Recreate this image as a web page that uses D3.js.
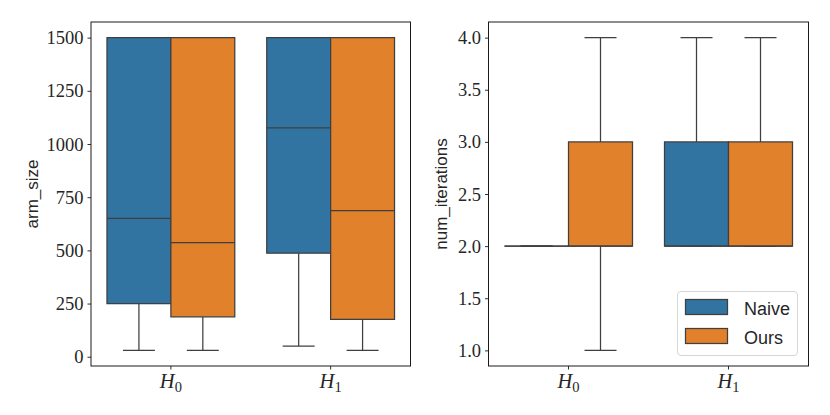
<!DOCTYPE html>
<html>
<head>
<meta charset="utf-8">
<script src="https://cdn.jsdelivr.net/npm/d3@7"></script>
<style>
  html, body { margin: 0; padding: 0; background: #fff; }
  svg { display: block; }
</style>
</head>
<body>
<svg id="chart" width="830" height="415"></svg>
<script>
// ---- data ----
const categories = ["H0", "H1"];
const categorySub = ["0", "1"];
const hues = ["Naive", "Ours"];
const hueColors = ["#3274a1", "#e1812c"];

// box stats per category: [min, q1, median, q3, max]
const armSizeNaive = [[30, 250, 650, 1500, 1500], [50, 487, 1076, 1500, 1500]];
const armSizeOurs  = [[30, 188, 537, 1500, 1500], [30, 176, 687, 1500, 1500]];
const iterNaive    = [[2, 2, 2, 2, 2], [2, 2, 2, 3, 4]];
const iterOurs     = [[1, 2, 2, 3, 4], [2, 2, 2, 3, 4]];

const armTicks  = [0, 250, 500, 750, 1000, 1250, 1500];
const iterTicks = [1.0, 1.5, 2.0, 2.5, 3.0, 3.5, 4.0];

// ---- drawing ----
const svg = d3.select("#chart");
const serif = "'Liberation Serif', 'DejaVu Serif', serif";
const sans = "'Liberation Sans', 'DejaVu Sans', sans-serif";
const edge = "#3f3f3f";
const ink = "#262626";

function boxPath(x0, x1, yTop, yBot) {
  return `M${x0},${yTop}H${x1}V${yBot}H${x0}Z`;
}

function drawPanel(opts) {
  const { left, right, top, bottom, domain, ticks, fmt, series, label, labelX } = opts;
  const g = svg.append("g");
  const x = d3.scaleBand().domain(categories).range([left, right]).paddingInner(0.2).paddingOuter(0.1);
  const xh = d3.scaleBand().domain(hues).range([0, x.bandwidth()]);
  const y = d3.scaleLinear().domain(domain).range([bottom, top]);

  series.forEach((vals, hi) => {
    vals.forEach((s, ci) => {
      const [mn, q1, med, q3, mx] = s;
      const x0 = x(categories[ci]) + xh(hues[hi]);
      const w = xh.bandwidth();
      const cx = x0 + w / 2;
      const bg = g.append("g");
      bg.append("line").attr("x1", cx).attr("x2", cx).attr("y1", y(q1)).attr("y2", y(mn))
        .attr("stroke", edge).attr("stroke-width", 1.25);
      bg.append("line").attr("x1", cx).attr("x2", cx).attr("y1", y(q3)).attr("y2", y(mx))
        .attr("stroke", edge).attr("stroke-width", 1.25);
      bg.append("line").attr("x1", cx - w / 4).attr("x2", cx + w / 4).attr("y1", y(mn)).attr("y2", y(mn))
        .attr("stroke", edge).attr("stroke-width", 1.25);
      bg.append("line").attr("x1", cx - w / 4).attr("x2", cx + w / 4).attr("y1", y(mx)).attr("y2", y(mx))
        .attr("stroke", edge).attr("stroke-width", 1.25);
      bg.append("path").attr("d", boxPath(x0, x0 + w, y(q3), y(q1)))
        .attr("fill", hueColors[hi]).attr("stroke", edge).attr("stroke-width", 1.25);
      bg.append("line").attr("x1", x0).attr("x2", x0 + w).attr("y1", y(med)).attr("y2", y(med))
        .attr("stroke", edge).attr("stroke-width", 1.25);
    });
  });

  g.append("rect").attr("x", left).attr("y", top).attr("width", right - left).attr("height", bottom - top)
    .attr("fill", "none").attr("stroke", "#1a1a1a").attr("stroke-width", 1);

  const ya = g.append("g").attr("transform", `translate(${left},0)`)
    .call(d3.axisLeft(y).tickValues(ticks).tickFormat(fmt).tickSize(3.5).tickPadding(4));
  ya.select(".domain").remove();
  ya.selectAll(".tick line").attr("stroke", "#1a1a1a").attr("stroke-width", 0.9);
  ya.selectAll(".tick text").attr("font-family", serif).attr("font-size", "18.5px").attr("fill", ink)
    .attr("dy", "0.33em");

  const xa = g.append("g").attr("transform", `translate(0,${bottom})`)
    .call(d3.axisBottom(x).tickSize(3.5).tickPadding(4).tickFormat(""));
  xa.select(".domain").remove();
  xa.selectAll(".tick line").attr("stroke", "#1a1a1a").attr("stroke-width", 0.9);
  xa.selectAll(".tick").each(function (d, i) {
    const t = d3.select(this).select("text")
      .attr("y", 22).attr("dy", null).attr("font-family", serif).attr("fill", ink)
      .attr("text-anchor", "middle").attr("x", 0);
    t.text(null);
    t.append("tspan").attr("font-style", "italic").attr("font-size", "20.5px").text("H");
    t.append("tspan").attr("font-size", "14.5px").attr("dy", 3.5).text(categorySub[i]);
  });

  g.append("text").attr("transform", `translate(${labelX},${(top + bottom) / 2}) rotate(-90)`)
    .attr("text-anchor", "middle").attr("font-family", sans).attr("font-size", "17px")
    .attr("fill", ink).text(label);

  return { x, y, g };
}

const plotTop = 22, plotBottom = 366;
const armRange = d3.extent(armSizeNaive.concat(armSizeOurs).flat());
const armPad = (armRange[1] - armRange[0]) * 0.05;
drawPanel({
  left: 91, right: 410.5, top: plotTop, bottom: plotBottom,
  domain: [armRange[0] - armPad, armRange[1] + armPad],
  ticks: armTicks, fmt: d3.format("d"),
  series: [armSizeNaive, armSizeOurs], label: "arm_size", labelX: 37.5
});

const iterRange = d3.extent(iterNaive.concat(iterOurs).flat());
const iterPad = (iterRange[1] - iterRange[0]) * 0.05;
drawPanel({
  left: 488.5, right: 808.5, top: plotTop, bottom: plotBottom,
  domain: [iterRange[0] - iterPad, iterRange[1] + iterPad],
  ticks: iterTicks, fmt: d3.format(".1f"),
  series: [iterNaive, iterOurs], label: "num_iterations", labelX: 447
});

const lg = svg.append("g").attr("transform", "translate(677.5,291.5)");
lg.append("rect").attr("width", 120).attr("height", 64).attr("rx", 3.5)
  .attr("fill", "#fff").attr("fill-opacity", 0.8).attr("stroke", "#d6d6d6").attr("stroke-width", 1);
hues.forEach((h, i) => {
  const row = lg.append("g").attr("transform", `translate(8,${8 + i * 29})`);
  row.append("rect").attr("width", 42).attr("height", 15)
    .attr("fill", hueColors[i]).attr("stroke", edge).attr("stroke-width", 1.25);
  row.append("text").attr("x", 58.5).attr("y", 15.5).attr("font-family", sans).attr("font-size", "18px")
    .attr("fill", ink).text(h);
});
</script>
</body>
</html>
